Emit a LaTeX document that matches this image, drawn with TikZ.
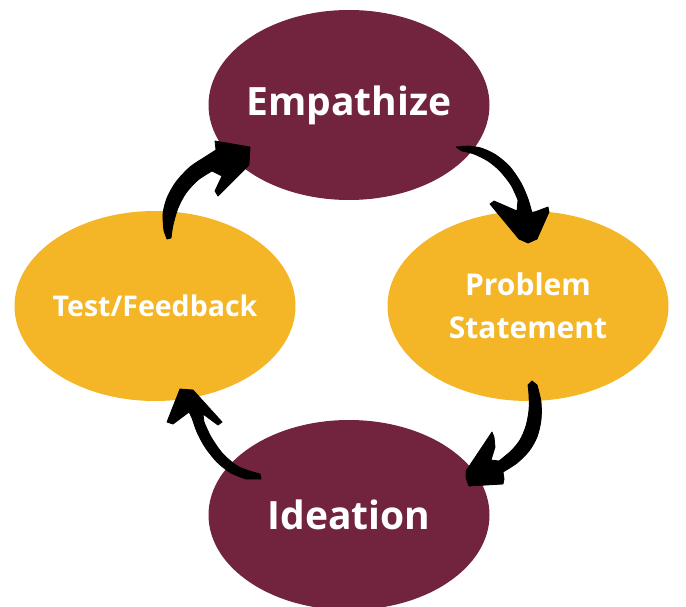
\documentclass[tikz,border=0pt]{standalone}
\usepackage{fontspec}
\setmainfont{Open Sans}
\usetikzlibrary{shapes.geometric}
\definecolor{stagemaroon}{HTML}{72243E}
\definecolor{stagegold}{HTML}{F4B527}
\begin{document}
\begin{tikzpicture}[x=1pt,y=-1pt,
  stage/.style={ellipse, minimum width=281pt, minimum height=190pt, inner sep=0pt},
  darkstage/.style={stage, fill=stagemaroon},
  lightstage/.style={stage, fill=stagegold},
  stagetext/.style={text=white, align=center, inner sep=0pt},
  brush/.style={fill=black, draw=black, line width=0.8pt, line join=round}]
\useasboundingbox (0,0) rectangle (686,607);
\clip (0,0) rectangle (686,607);

% the four stages of the cycle
\node[darkstage, label={[stagetext, font=\bfseries\fontsize{39}{43}\selectfont]center:Empathize}] (emp) at (349,105) {};
\node[lightstage, label={[stagetext, font=\bfseries\fontsize{30}{43}\selectfont]center:Problem\\Statement}] (prob) at (528,306) {};
\node[darkstage, label={[stagetext, font=\bfseries\fontsize{39}{43}\selectfont]center:Ideation}] (idea) at (349,515) {};
\node[lightstage, label={[stagetext, font=\bfseries\fontsize{28.5}{34}\selectfont]center:Test/Feedback}] (test) at (155,306) {};

% brush-stroke arrows between the stages
% test -> empathize
\fill[brush] (167,239) -- plot[smooth] coordinates {(164,231) (163,214) (167,198) (176,182) (190,167) (205,157) (216,150)}
  -- (215,141) -- (250,147) -- (249,165) -- (218,196) -- (215,191) -- (222,176)
  -- plot[smooth] coordinates {(212,171) (198,180) (186,193) (178,208) (173,225) (171,238)} -- cycle;
% empathize -> problem statement
\fill[brush] (456,147) -- plot[smooth] coordinates {(468,146) (481,148) (496,155) (510,167) (521,183) (528,199) (532,213)}
  -- (548,207) -- (549,212) -- (537,239) -- (528,243) -- (519,239) -- (490,204) -- (494,201) -- (517,211)
  -- plot[smooth] coordinates {(518,200) (511,185) (500,171) (488,161) (474,154) (462,151)} -- cycle;
% problem statement -> ideation
\fill[brush] (532,381) -- plot[smooth] coordinates {(537,385) (541,402) (541,420) (537,437) (529,451) (517,463) (503,472)}
  -- (504,479) -- (503,484) -- (469,486) -- (466,478) -- (466,471) -- (492,432) -- (494,437) -- (495,447) -- (491,460)
  -- plot[smooth] coordinates {(499,461) (511,451) (520,440) (526,426) (529,410) (529,395) (528,385)} -- cycle;
% ideation -> test
\fill[brush] (261,479) -- plot[smooth] coordinates {(246,479) (231,473) (217,462) (205,447) (197,432) (192,418) (189,412)}
  -- (173,424) -- (167,422) -- (180,389) -- (193,390) -- (222,422) -- (218,425) -- (203,414)
  -- plot[smooth] coordinates {(204,422) (211,437) (223,454) (239,467) (260,474)} -- cycle;
\end{tikzpicture}
\end{document}
